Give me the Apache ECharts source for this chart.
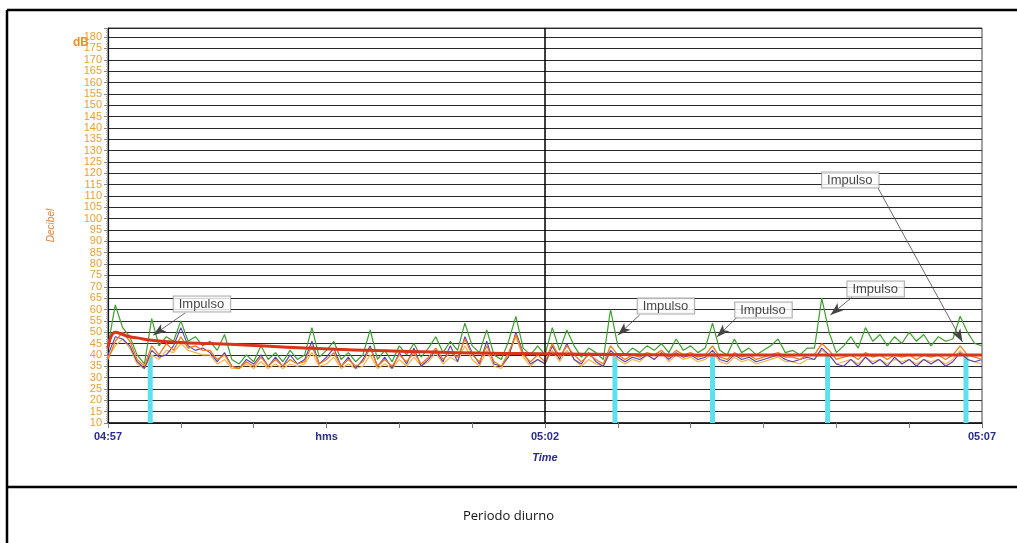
<!DOCTYPE html>
<html><head><meta charset="utf-8">
<script src="https://cdn.jsdelivr.net/npm/echarts@6/dist/echarts.min.js"></script>
<style>html,body{margin:0;padding:0;background:#fff}#c{width:1017px;height:543px}</style>
</head><body><div id="c"></div><script>
// sampling step of the level series, seconds from 04:57:00
const sampleStep = 5;
const greenValues = [
44,62,52,48,40,36,56,44,48,46,
55,46,48,44,46,42,49,38,36,40,
37,44,38,41,37,42,38,40,52,39,
42,46,38,41,37,40,51,38,42,37,
44,40,45,39,43,48,41,46,42,54,
44,41,51,40,38,46,57,43,40,44,
40,52,42,51,44,39,43,41,38,60,
44,40,43,41,44,42,45,41,47,42,
44,41,43,54,42,40,47,41,43,40,
42,44,47,41,42,40,43,43,65,50,
41,44,48,43,52,46,49,44,48,45,
50,46,49,44,48,46,47,57,50,45,
44];
const orangeValues = [
38,46,50,46,38,35,44,40,45,42,
48,43,44,42,42,38,40,35,34,37,
35,39,35,38,35,38,36,37,44,36,
38,41,35,38,35,37,43,35,38,35,
40,37,41,36,39,43,38,41,39,47,
40,37,44,37,35,41,49,40,37,40,
37,45,39,44,40,37,40,38,36,44,
40,38,40,39,41,40,42,39,42,40,
41,39,40,44,39,38,41,39,40,38,
39,40,41,39,39,38,40,40,45,42,
38,39,40,38,41,39,40,38,40,39,
40,38,40,39,40,38,40,44,40,39,
38];
const purpleValues = [
40,48,47,44,37,34,42,39,40,44,
52,44,42,43,41,37,41,35,34,38,
36,40,35,39,35,40,36,38,46,36,
39,43,35,39,34,38,44,35,39,34,
41,36,43,35,38,42,37,44,37,48,
41,36,46,36,35,39,50,41,36,38,
36,44,38,45,38,36,41,37,35,42,
39,37,39,38,40,38,41,38,41,39,
40,38,39,42,38,37,40,38,39,37,
38,39,40,38,37,38,39,38,43,40,
36,35,38,35,39,36,38,35,39,36,
38,35,38,36,38,35,37,41,38,37,
38];
const goldValues = [
39,44,47,43,36,34,40,38,42,41,
45,42,41,40,40,36,38,34,34,36,
34,37,34,36,34,36,35,36,41,35,
36,39,34,36,34,35,40,34,36,34,
38,35,39,35,37,41,36,39,37,44,
38,35,42,35,34,40,48,39,35,38,
36,42,37,42,38,35,38,36,35,41,
38,36,38,37,40,38,41,37,40,38,
39,37,38,41,37,36,39,37,38,36,
37,38,39,37,37,36,38,38,42,40,
36,37,38,36,39,37,38,36,38,37,
38,36,38,37,38,36,38,42,38,37,
36];
const leqTimes = [0,5,10,15,20,30,50,70,90,135,180,240,300,400,500,600];
const leqValues = [43,50,49,48,47.5,46.5,45.5,45,44.5,43,42,41,40.5,40,40,40];
const impulseTimes = [29,348,415,494,589];
const impulseLevels = [40,40,40,40,40];
const annLabelTimes = [64.5,383,450,527,509.6];
const annLabelLevels = [62.4,61.5,59.8,69,117];
const annFromTimes = [53,365,432.5,511,528.6];
const annFromLevels = [58.5,57.6,57,65.5,113.5];
const annTipTimes = [31,350,418,496,586.6];
const annTipLevels = [48.7,48.7,47.9,57.6,45.7];
const annText = 'Impulso';
const xTickLabels = {0:'04:57',150:'hms',300:'05:02',600:'05:07'};
const centreTime = 300;

const toPairs = vals => vals.map((v,i)=>[i*sampleStep, v]);
const zip = (a,b) => a.map((v,i)=>[v,b[i]]);

const chart = echarts.init(document.getElementById('c'));
const lineBase = {type:'line', showSymbol:false, symbol:'none', animation:false};
chart.setOption({
  backgroundColor:'#fff',
  animation:false,
  title:{text:'Periodo diurno', left:'center', top:505,
    textStyle:{fontSize:13, fontWeight:'normal', color:'#111', fontFamily:'Open Sans'}},
  grid:{left:108, right:35, top:28, bottom:120, show:true, borderColor:'#444', borderWidth:1},
  xAxis:{type:'value', min:0, max:600, interval:50,
    name:'Time', nameLocation:'middle', nameGap:29,
    nameTextStyle:{color:'#2b2b8c', fontStyle:'italic', fontWeight:'bold', fontSize:11, fontFamily:'Liberation Sans'},
    axisLine:{lineStyle:{color:'#111', width:1.5}},
    axisTick:{show:true, length:5, lineStyle:{color:'#777'}},
    splitLine:{show:false},
    axisLabel:{showMinLabel:true, showMaxLabel:true, margin:8, color:'#2b2b8c', fontWeight:'bold', fontSize:11,
      fontFamily:'Liberation Sans Narrow, Liberation Sans',
      formatter:v => xTickLabels[v] || ''}},
  yAxis:{type:'value', min:10, max:184, interval:5,
    name:'Decibel', nameLocation:'middle', nameGap:52,
    nameTextStyle:{color:'#e0823a', fontStyle:'italic', fontSize:10, fontFamily:'Liberation Sans'},
    axisLine:{show:true, lineStyle:{color:'#111', width:1.2}},
    axisTick:{show:true, length:4, lineStyle:{color:'#888'}},
    minorTick:{show:true, splitNumber:5, length:2, lineStyle:{color:'#aaa'}},
    splitLine:{show:true, lineStyle:{color:'#2a2a2a', width:1}},
    axisLabel:{showMaxLabel:false, margin:6, color:'#e8a030', fontSize:11,
      fontFamily:'Liberation Sans Narrow, Liberation Sans'}},
  graphic:[
    {type:'line', shape:{x1:7, y1:10, x2:1017, y2:10}, style:{stroke:'#000', lineWidth:2.5}},
    {type:'line', shape:{x1:7, y1:10, x2:7, y2:543}, style:{stroke:'#000', lineWidth:2.5}},
    {type:'line', shape:{x1:7, y1:487, x2:1017, y2:487}, style:{stroke:'#000', lineWidth:2.5}},
    {type:'text', left:73, top:37, style:{text:'dB', fill:'#e8902a', font:'bold 12px Liberation Sans'}}
  ],
  series:[
    {type:'bar', name:'Impulse', barWidth:5, clip:true, animation:false,
      itemStyle:{color:'#5fe0ef'}, data:zip(impulseTimes, impulseLevels), z:1},
    Object.assign({}, lineBase, {name:'LAFmax', data:toPairs(greenValues), lineStyle:{color:'#3e9e2e', width:1.2}, z:2}),
    Object.assign({}, lineBase, {name:'LAS', data:toPairs(goldValues), lineStyle:{color:'#f5b545', width:1.2}, z:3}),
    Object.assign({}, lineBase, {name:'LAF', data:toPairs(orangeValues), lineStyle:{color:'#f07a1a', width:1.3}, z:4}),
    Object.assign({}, lineBase, {name:'LAFmin', data:toPairs(purpleValues), lineStyle:{color:'#5a3fb5', width:1.1}, z:3}),
    Object.assign({}, lineBase, {name:'Leq', data:zip(leqTimes, leqValues), smooth:true,
      lineStyle:{color:'#d9341c', width:3}, z:5,
      markLine:{silent:true, symbol:['none','none'], label:{show:false},
        lineStyle:{color:'#000', width:1.5, type:'solid'}, data:[{xAxis:centreTime}]}}),
    {type:'scatter', name:'ann', symbolSize:1, itemStyle:{color:'transparent'}, z:10, animation:false,
      data:zip(annLabelTimes, annLabelLevels),
      label:{show:true, position:'inside', formatter:annText, color:'#111', fontSize:13,
        fontFamily:'Liberation Sans', backgroundColor:'#fff', borderColor:'#999', borderWidth:1, padding:[1,6,1,5]},
      markLine:{silent:true, symbol:['none','arrow'], symbolSize:[7,13], label:{show:false},
        lineStyle:{color:'#444', width:0.8, type:'solid'},
        data:annFromTimes.map((t,i)=>[{coord:[t, annFromLevels[i]]},{coord:[annTipTimes[i], annTipLevels[i]]}])}}
  ]
});
</script></body></html>
